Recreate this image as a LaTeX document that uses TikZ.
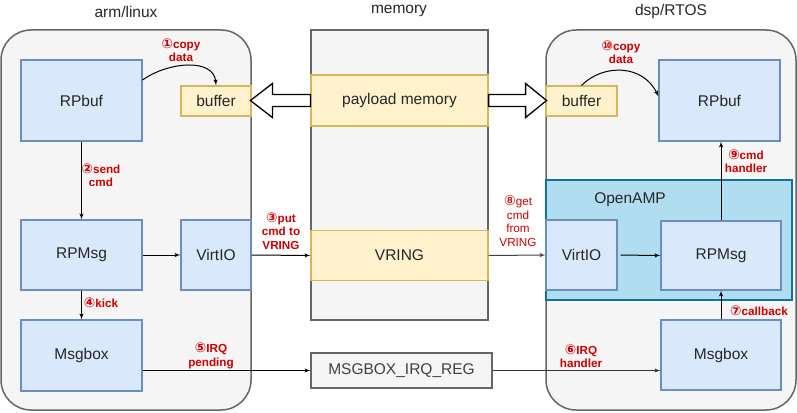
\documentclass[tikz,border=0pt]{standalone}
\usepackage{fontspec}
\setmainfont{Liberation Sans}
\newfontfamily\circfont{DejaVu Sans}
\usepackage{xcolor}
\usepackage{tikz}
\usetikzlibrary{shapes,arrows,positioning,calc,fit}

\definecolor{panelgray}{HTML}{F5F5F5}
\definecolor{panelline}{HTML}{666666}
\definecolor{bluefill}{HTML}{DAE8FC}
\definecolor{blueline}{HTML}{6C8EBF}
\definecolor{yellowfill}{HTML}{FFF2CC}
\definecolor{yellowline}{HTML}{D6B656}
\definecolor{ampfill}{HTML}{B1DDF0}
\definecolor{ampline}{HTML}{10739E}
\definecolor{stepred}{HTML}{CC0000}

\newcommand{\cn}[1]{{\circfont\fontsize{13.5}{13.5}\selectfont #1}}

\begin{document}
\begin{tikzpicture}[
    x=1pt, y=-1pt,
    font=\fontsize{15.5}{18}\selectfont,
    panel/.style={
        rectangle,
        draw=panelline,
        fill=panelgray,
        line width=1.5pt,
        rounded corners=30pt
    },
    memblock/.style={
        rectangle,
        draw=panelline,
        fill=panelgray,
        line width=1.2pt
    },
    block/.style={
        rectangle,
        draw=blueline,
        fill=bluefill,
        line width=1.2pt,
        text=black!85
    },
    bufbox/.style={
        rectangle,
        draw=yellowline,
        fill=yellowfill,
        line width=1.2pt,
        text=black!85
    },
    title/.style={
        text=black!85
    },
    line/.style={
        draw,
        line width=1pt,
        -latex'
    },
    hollow/.style={
        draw,
        fill=white,
        line width=1.3pt,
        line join=miter
    },
    steplabel/.style={
        text=stepred,
        align=center,
        font=\fontsize{11.7}{13.5}\selectfont\bfseries
    }
]
\useasboundingbox (0,0) rectangle (797,412);

% Containers
\node [panel, minimum width=250pt, minimum height=380pt] (arm) at (126,220) {};
\node [panel, minimum width=250pt, minimum height=380pt] (dsp) at (671,220) {};
\node [memblock, minimum width=177pt, minimum height=290pt] (memory) at (399.5,175) {};

\node [title] (armtitle) at (126,12) {arm/linux};
\node [title] (memtitle) at (399,11) {memory};
\node [title] (dsptitle) at (671,11) {dsp/RTOS};

% OpenAMP group
\node [rectangle, draw=ampline, fill=ampfill, line width=1.2pt,
       minimum width=246pt, minimum height=120pt] (openamp) at (669,240) {};
\node [title] (amptitle) at (630,200) {OpenAMP};

% Nodes - arm side
\node [block, minimum width=121pt, minimum height=81pt] (lrpbuf) at (81.5,100.5) {RPbuf};
\node [bufbox, minimum width=70pt, minimum height=30pt] (lbuffer) at (216,101) {buffer};
\node [block, minimum width=121pt, minimum height=70pt] (lrpmsg) at (81.5,255) {RPMsg};
\node [block, minimum width=70pt, minimum height=70pt] (lvirtio) at (216,255) {VirtIO};
\node [block, minimum width=121pt, minimum height=71pt] (lmsgbox) at (81.5,355.5) {Msgbox};

% Nodes - memory
\node [bufbox, minimum width=177pt, minimum height=51pt] (payload) at (399.5,100.5) {payload memory};
\node [bufbox, minimum width=177pt, minimum height=50pt] (vring) at (399.5,255.5) {VRING};
\node [memblock, minimum width=181pt, minimum height=35pt, text=black!75] (irqreg) at (401.5,370.5) {MSGBOX\_IRQ\_REG};

% Nodes - dsp side
\node [bufbox, minimum width=71pt, minimum height=30pt] (rbuffer) at (581.5,101) {buffer};
\node [block, minimum width=121pt, minimum height=81pt] (rrpbuf) at (719.5,100.5) {RPbuf};
\node [block, minimum width=71pt, minimum height=70pt] (rvirtio) at (581.5,255) {VirtIO};
\node [block, minimum width=120pt, minimum height=69pt] (rrpmsg) at (721,255.5) {RPMsg};
\node [block, minimum width=120pt, minimum height=70pt] (rmsgbox) at (721,355) {Msgbox};

% Hollow arrows from payload memory to the buffers
\draw [hollow] ($(payload.west)+(0,-6)$) -- ++(-38,0) -- ++(0,-11) -- ++(-22,17)
    -- ++(22,17) -- ++(0,-11) -- ++(38,0) -- cycle;
\draw [hollow] ($(payload.east)+(0,-6)$) -- ++(37,0) -- ++(0,-11) -- ++(21,17)
    -- ++(-21,17) -- ++(0,-11) -- ++(-37,0) -- cycle;

% Paths
% 1. copy data (arm)
\path [line] ($(lrpbuf.north east)!0.25!(lrpbuf.south east)$)
    .. controls +(25,-18) and +(-2,-28) .. (lbuffer.north);
\node [steplabel] (s1) at (181,50) {\cn{①}copy\\data};

% 2. send cmd
\path [line] (lrpbuf.south) -- (lrpmsg.north);
\node [steplabel] (s2) at (101,175) {\cn{②}send\\cmd};

% 3. put cmd to VRING
\path [line] (lrpmsg.east) -- (lvirtio.west);
\path [line] (lvirtio.east) -- (vring.west);
\node [steplabel] (s3) at (281,231) {\cn{③}put\\cmd to\\VRING};

% 4. kick
\path [line] (lrpmsg.south) -- (lmsgbox.north);
\node [steplabel] (s4) at (101,303) {\cn{④}kick};

% 5. IRQ pending
\path [line] (lmsgbox.east |- irqreg.west) -- (irqreg.west);
\node [steplabel] (s5) at (211,356) {\cn{⑤}IRQ\\pending};

% 6. IRQ handler
\path [line, draw=black!80] (irqreg.east) -- (irqreg.east -| rmsgbox.west);
\node [steplabel] (s6) at (581,356) {\cn{⑥}IRQ\\handler};

% 7. callback
\path [line] (rmsgbox.north) -- (rrpmsg.south);
\node [steplabel] (s7) at (759,311) {\cn{⑦}callback};

% 8. get cmd from VRING
\path [line, draw=black!75] (vring.east) -- (rvirtio.west);
\node [steplabel, font=\fontsize{11.7}{13.5}\selectfont] (s8) at (518,221) {\cn{⑧}get\\cmd\\from\\VRING};
\path [line, shorten <=3pt] (rvirtio.east) -- (rrpmsg.west);

% 9. cmd handler
\path [line] (rrpmsg.north) -- (rrpmsg.north |- rrpbuf.south);
\node [steplabel] (s9) at (746,161) {\cn{⑨}cmd\\handler};

% 10. copy data (dsp)
\path [line] (rbuffer.north)
    .. controls +(22,-22) and +(-15,-32) .. ($(rrpbuf.north west)!0.45!(rrpbuf.south west)$);
\node [steplabel] (s10) at (621,52) {\cn{⑩}copy\\data};

\end{tikzpicture}
\end{document}
